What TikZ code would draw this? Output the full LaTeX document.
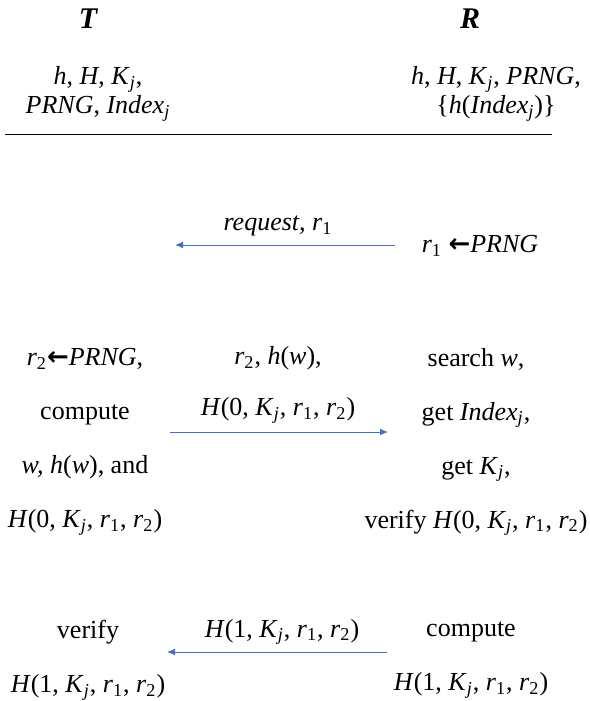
\documentclass[tikz,border=0pt]{standalone}
\usepackage{fontspec}
\setmainfont{Liberation Serif}
\newfontfamily\arrowfont{DejaVu Sans}
\usetikzlibrary{arrows.meta,positioning}
\definecolor{msgblue}{HTML}{4472C4}
\tikzset{
    party/.style={
        font=\fontsize{15}{18}\selectfont\bfseries\itshape,
        inner sep=0pt
    },
    know/.style={
        align=center,
        font=\fontsize{13}{14.5}\selectfont,
        inner sep=0pt
    },
    calcbox/.style={
        align=center,
        font=\fontsize{13}{27}\selectfont,
        inner sep=0pt
    },
    msglabel/.style={
        align=center,
        font=\fontsize{13}{25.5}\selectfont,
        inner sep=0pt
    },
    msg/.style={-{Latex[length=4pt,width=3.4pt]}, draw=msgblue, line width=0.5pt}
}
\newcommand{\lo}[1]{\textsubscript{#1}}
\newcommand{\Kj}{\textit{K}\lo{\textit{j}}}
\newcommand{\rr}[1]{\textit{r}\lo{#1}}
\newcommand{\Idx}{\textit{Index}\lo{\textit{j}}}
\newcommand{\genfrom}{{\arrowfont\bfseries ←}}

\begin{document}
\begin{tikzpicture}[x=0.5pt,y=-0.5pt]
    \useasboundingbox (0,0) rectangle (589,701);
    % parties and what they hold
    \node[party] (tag) at (88,19) {T};
    \node[party] (rdr) at (470,19) {R};
    \node[know] (tk) at (98,94) {\textit{h}, \textit{H}, \Kj,\\ \textit{PRNG}, \Idx};
    \node[know] (rk) at (496,94) {\textit{h}, \textit{H}, \Kj, \textit{PRNG},\\ \{\textit{h}(\Idx)\}};
    \coordinate (ruleL) at (5,135);
    \coordinate (ruleR) at (552,135);
    \draw[line width=0.5pt] (ruleL) -- (ruleR);
    % request
    \node[calcbox] (r1gen) at (480,246) {\rr{1} \genfrom\textit{PRNG}};
    \node[msglabel] (m1) at (278,226) {\textit{request,} \rr{1}};
    \coordinate (m1s) at (395,245);
    \coordinate (m1e) at (175,245);
    \draw[msg] (m1s) -- (m1e);
    % tag answer
    \node[calcbox] (tcalc) at (85,442) {\rr{2}\genfrom\textit{PRNG},\\ compute\\ \textit{w, h}(\textit{w}), and\\ \textit{H}(0, \Kj, \rr{1}, \rr{2})};
    \node[msglabel] (m2) at (278,385) {\rr{2}, \textit{h}(\textit{w}),\\ \textit{H}(0, \Kj, \rr{1}, \rr{2})};
    \coordinate (m2s) at (170,432);
    \coordinate (m2e) at (388,432);
    \draw[msg] (m2s) -- (m2e);
    \node[calcbox] (rcalc) at (476,442) {search \textit{w},\\ get \Idx,\\ get \Kj,\\ verify \textit{H}(0, \Kj, \rr{1}, \rr{2})};
    % reader answer
    \node[calcbox] (rresp) at (471,660) {compute\\ \textit{H}(1, \Kj, \rr{1}, \rr{2})};
    \node[msglabel] (m3) at (282,632) {\textit{H}(1, \Kj, \rr{1}, \rr{2})};
    \coordinate (m3s) at (387,652);
    \coordinate (m3e) at (167,652);
    \draw[msg] (m3s) -- (m3e);
    \node[calcbox] (tver) at (88,660) {verify\\ \textit{H}(1, \Kj, \rr{1}, \rr{2})};
\end{tikzpicture}
\end{document}
